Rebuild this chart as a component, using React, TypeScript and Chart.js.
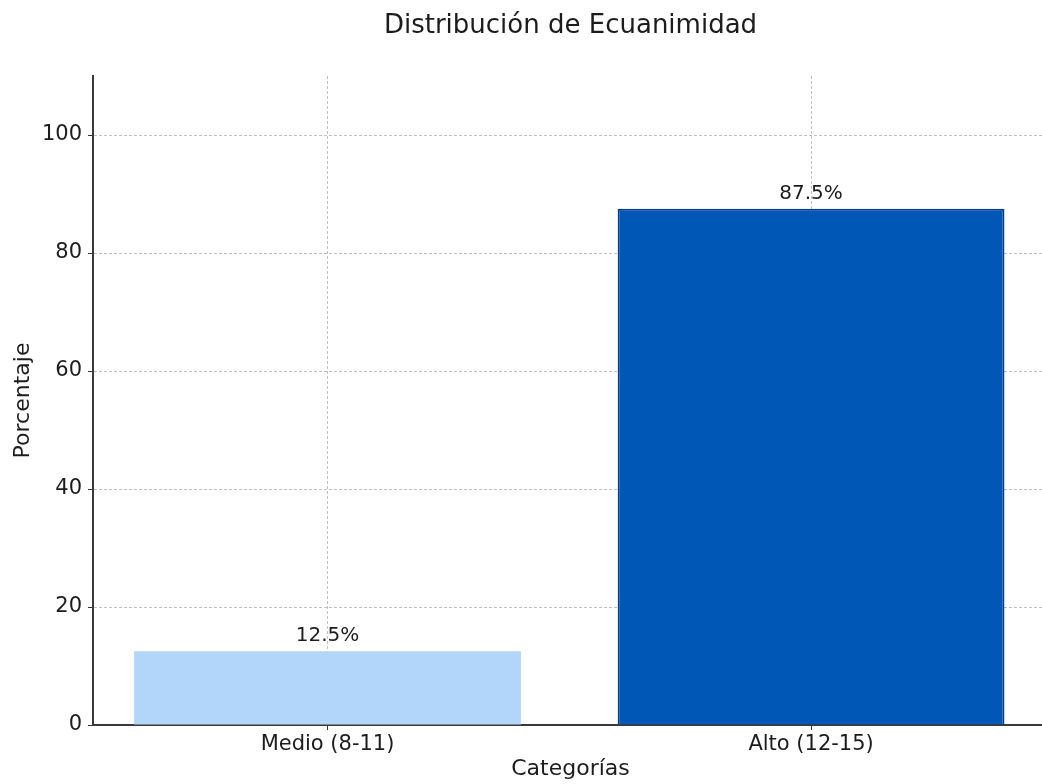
import React, { useEffect, useRef } from "react";
import { Chart, registerables } from "chart.js";

Chart.register(...registerables);

const chartTitle = "Distribución de Ecuanimidad";
const categories = ["Medio (8-11)", "Alto (12-15)"];
const percentages = [12.5, 87.5];
const barColors = ["#b1d6fa", "#0057b5"];
const barBorders = ["#b1d6fa", "#003c8f"];
const yTicks = [0, 20, 40, 60, 80, 100];
const xTitle = "Categorías";
const yTitle = "Porcentaje";

const FONT = "'DejaVu Sans', sans-serif";
const TEXT = "#1c1c1c";

export default function App() {
  const ref = useRef<HTMLCanvasElement | null>(null);

  useEffect(() => {
    document.body.style.margin = "0";
    document.body.style.overflow = "hidden";
    const canvas = ref.current;
    if (!canvas) return;

    const labelsPlugin = {
      id: "labelsAndTitle",
      afterDraw(chart: any) {
        const ctx = chart.ctx;
        const area = chart.chartArea;
        ctx.save();
        ctx.fillStyle = TEXT;
        ctx.font = `26px ${FONT}`;
        ctx.textAlign = "center";
        ctx.textBaseline = "alphabetic";
        ctx.fillText(chartTitle, (area.left + area.right) / 2, 33);
        ctx.font = `20px ${FONT}`;
        ctx.textBaseline = "bottom";
        const meta = chart.getDatasetMeta(0);
        meta.data.forEach((bar: any, i: number) => {
          ctx.fillText(`${percentages[i]}%`, bar.x, bar.y - 5);
        });
        ctx.restore();
      },
    };

    const gridOpts = {
      color: "rgba(170,170,170,0.75)",
      lineWidth: 1,
      tickColor: "#333",
      tickLength: 5,
      tickBorderDash: [],
      offset: false,
    };

    const chart = new Chart(canvas, {
      type: "bar",
      data: {
        datasets: [
          {
            data: categories.map((_, i) => ({ x: i, y: percentages[i] })),
            backgroundColor: barColors,
            borderColor: barBorders,
            borderWidth: [0, 2],
            categoryPercentage: 0.8,
            barPercentage: 1,
          },
        ],
      },
      options: {
        responsive: false,
        animation: false,
        devicePixelRatio: 1,
        layout: { padding: { top: 76, right: 12, left: 0, bottom: 0 } },
        plugins: {
          legend: { display: false },
          tooltip: { enabled: false },
          title: { display: false },
        },
        scales: {
          x: {
            type: "linear",
            min: -0.485,
            max: 1.49,
            offset: false,
            z: 1,
            afterBuildTicks: (scale: any) => {
              scale.ticks = categories.map((_, i) => ({ value: i }));
            },
            afterFit: (scale: any) => {
              scale.height = 59;
            },
            ticks: {
              callback: (v: any) => categories[v] ?? "",
              font: { family: FONT, size: 21 },
              color: TEXT,
              padding: 2,
              maxRotation: 0,
            },
            grid: gridOpts,
            border: { display: true, color: "#3a3a3a", width: 2, dash: [3, 2] },
            title: {
              display: true,
              text: xTitle,
              font: { family: FONT, size: 22 },
              color: TEXT,
              padding: { top: 0, bottom: 2 },
            },
          },
          y: {
            type: "linear",
            min: 0,
            max: 110,
            z: 1,
            afterBuildTicks: (scale: any) => {
              scale.ticks = yTicks.map((v) => ({ value: v }));
            },
            afterFit: (scale: any) => {
              scale.width = 93;
            },
            ticks: {
              font: { family: FONT, size: 21 },
              color: TEXT,
              padding: 6,
            },
            grid: gridOpts,
            border: { display: true, color: "#3a3a3a", width: 2, dash: [3, 2] },
            title: {
              display: true,
              text: yTitle,
              font: { family: FONT, size: 22 },
              color: TEXT,
              padding: { top: 10, bottom: 0 },
            },
          },
        },
      },
      plugins: [labelsPlugin],
    } as any);

    return () => chart.destroy();
  }, []);

  return (
    <div style={{ width: 1042, height: 784, overflow: "hidden", position: "relative" }}>
      <canvas ref={ref} width={1060} height={784} style={{ display: "block" }} />
    </div>
  );
}
